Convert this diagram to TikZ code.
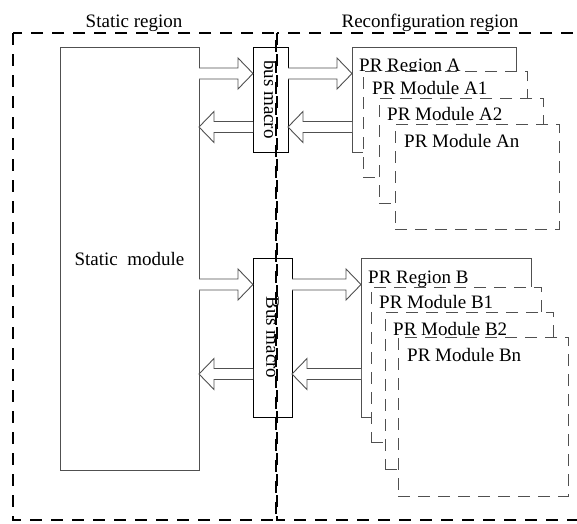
\documentclass[tikz,border=0pt]{standalone}
\usepackage{fontspec}
\setmainfont{Liberation Serif}
\usetikzlibrary{calc}
\definecolor{boxline}{RGB}{80,80,80}

% box from its top-left to its bottom-right corner (values in px, y downwards)
\newcommand\boxnode[6]{%
  \node[#2,minimum width={(#5-#3)*1pt},minimum height={(#6-#4)*1pt}] (#1) at (#3,#4) {};}
% hollow wide arrow: tail on the east side of #1, tip on the west side of #2
\newcommand\rarr[3]{%
  \draw[hollow] let \p1=(#1.east), \p2=(#2.west) in
    (\x1,{-#3pt+5.5pt}) -- ({\x2-15pt},{-#3pt+5.5pt}) -- ({\x2-15pt},{-#3pt+15.5pt})
    -- (\x2,{-#3pt}) -- ({\x2-15pt},{-#3pt-15.5pt}) -- ({\x2-15pt},{-#3pt-5.5pt})
    -- (\x1,{-#3pt-5.5pt});}
% hollow wide arrow: tip on the east side of #1, tail on the west side of #2
\newcommand\larr[3]{%
  \draw[hollow] let \p1=(#1.east), \p2=(#2.west) in
    (\x2,{-#3pt+5.5pt}) -- ({\x1+15pt},{-#3pt+5.5pt}) -- ({\x1+15pt},{-#3pt+15.5pt})
    -- (\x1,{-#3pt}) -- ({\x1+15pt},{-#3pt-15.5pt}) -- ({\x1+15pt},{-#3pt-5.5pt})
    -- (\x2,{-#3pt-5.5pt});}

\begin{document}
\begin{tikzpicture}[x=1pt,y=-1pt,
  every node/.style={font=\fontsize{19}{22}\selectfont},
  region/.style={draw=black,line width=2.2pt,dash pattern=on 12pt off 9pt},
  plain/.style={draw=boxline,line width=0.9pt,fill=white,inner sep=0pt,outer sep=0pt,anchor=north west},
  module/.style={plain,dash pattern=on 12pt off 8pt},
  busbox/.style={draw=black,line width=0.8pt,inner sep=0pt,outer sep=0pt,anchor=north west},
  lbl/.style={anchor=base west,inner sep=0pt,text=black},
  hollow/.style={draw=boxline,line width=0.9pt,fill=white,line join=miter}
]
\useasboundingbox (0,0) rectangle (577,523);
\begin{scope}
\clip (0,0) rectangle (577,523);

% static side
\boxnode{sm}{plain}{60}{47}{199}{470}
\node[inner sep=0pt] (smt) at (129.5,258.5) {Static~~module};

% bus macros
\boxnode{bmA}{busbox}{253}{47}{288}{152}
\node[rotate=-90,inner sep=0pt] (bmAt) at (bmA.center) {bus macro};
\boxnode{bmB}{busbox}{253}{258}{292}{417}
\node[rotate=-90,inner sep=0pt] (bmBt) at (bmB.center) {Bus macro};

% PR region A and its modules, each one drawn over the previous
\boxnode{ra}{plain}{352}{47}{516}{152}
\node[lbl] (rat) at (359,71) {PR Region A};
\boxnode{ma1}{module}{363}{71}{527}{177}
\node[lbl] (ma1t) at (372,94) {PR Module A1};
\boxnode{ma2}{module}{379}{98}{543}{203}
\node[lbl] (ma2t) at (387,120.5) {PR Module A2};
\boxnode{man}{module}{395}{124}{559}{229}
\node[lbl] (mant) at (404,147) {PR Module An};

% PR region B and its modules
\boxnode{rb}{plain}{361}{258}{531}{417}
\node[lbl] (rbt) at (368,283.5) {PR Region B};
\boxnode{mb1}{module}{371}{287}{541}{442}
\node[lbl] (mb1t) at (379,308) {PR Module B1};
\boxnode{mb2}{module}{385}{312}{553}{469}
\node[lbl] (mb2t) at (393,335) {PR Module B2};
\boxnode{mbn}{module}{398}{337}{568}{496}
\node[lbl] (mbnt) at (407,361) {PR Module Bn};

% data paths
\rarr{sm}{bmA}{73.5}
\larr{sm}{bmA}{127}
\rarr{bmA}{ra}{73.5}
\larr{bmA}{ra}{127}
\rarr{sm}{bmB}{284.5}
\larr{sm}{bmB}{374}
\rarr{bmB}{rb}{284.5}
\larr{bmB}{rb}{374}

% the two regions
\draw[region] (13,33) rectangle (276,520);
\draw[region] (277,33) rectangle (610,520);
\node[lbl,anchor=base] (ts) at (134,27) {Static region};
\node[lbl,anchor=base] (tr) at (430,27) {Reconfiguration region};
\end{scope}
\end{tikzpicture}
\end{document}
